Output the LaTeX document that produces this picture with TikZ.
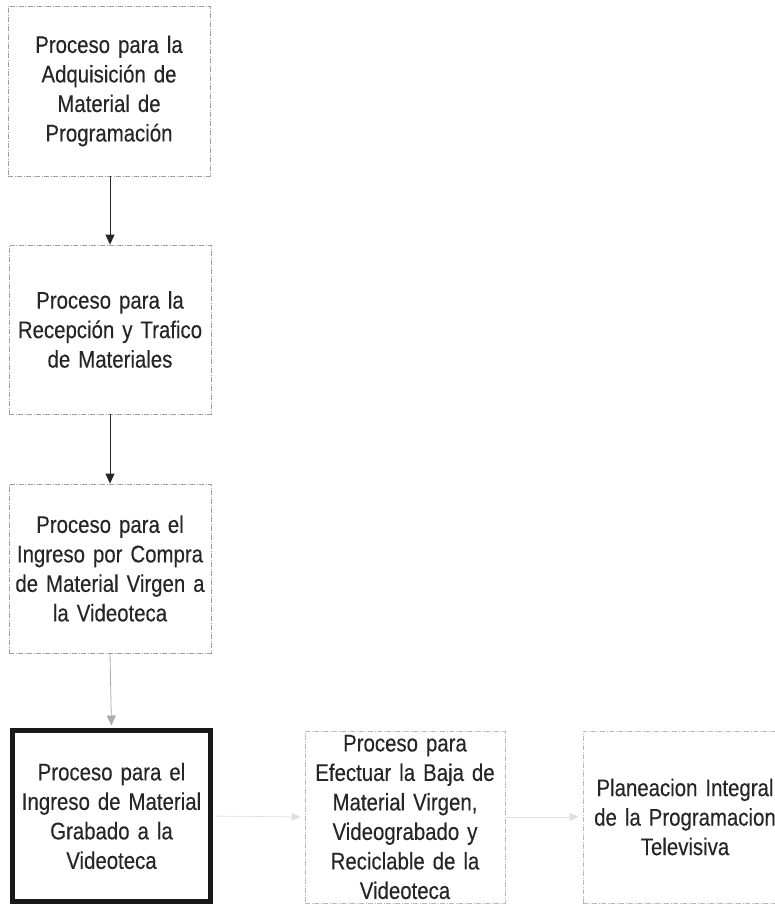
\documentclass[tikz,border=0pt]{standalone}
\usepackage{fontspec}
\setmainfont{Liberation Sans}
\newfontfamily\narrowfont[FakeStretch=0.85,FakeBold=0.3]{Liberation Sans}
\usetikzlibrary{arrows.meta}
\definecolor{txt}{HTML}{262626}
\begin{document}
\begin{tikzpicture}[x=1pt,y=-1pt,
  procbox/.style={draw=gray!75, line width=0.8pt, dash pattern=on 5pt off 1.5pt on 1pt off 1.5pt,
    minimum width=202pt, minimum height=170pt, text width=198pt, align=center, inner sep=0pt,
    font=\narrowfont\fontsize{24}{29.5}\selectfont, text=txt},
  lightbox/.style={procbox, draw=gray!55},
  mainbox/.style={procbox, draw=black!90, solid, line width=5pt, minimum width=198pt, minimum height=171pt},
  darrow/.style={-{Triangle[length=10pt,width=9pt]}, line width=0.9pt, black!85},
  garrow/.style={-{Triangle[length=10pt,width=9pt]}, line width=0.8pt, gray!65},
  larrow/.style={-{Triangle[length=9pt,width=8pt]}, line width=0.6pt, draw=gray!25, fill=gray!60, shorten >=4pt}
]
\useasboundingbox (0,0) rectangle (775,905);
\clip (0,0) rectangle (775,905);
\node[procbox] (a) at (109,91) {Proceso para la\\Adquisición de\\Material de\\Programación};
\node[procbox, minimum height=169pt] (b) at (110,329.5) {Proceso para la\\Recepción y Trafico\\de Materiales};
\node[procbox, minimum height=169pt] (c) at (110,568.5) {Proceso para el\\Ingreso por Compra\\de Material Virgen a\\la Videoteca};
\node[mainbox] (d) at (111.5,816) {Proceso para el\\Ingreso de Material\\Grabado a la\\Videoteca};
\node[lightbox, minimum width=200pt, minimum height=172pt] (e) at (405,817) {Proceso para\\Efectuar la Baja de\\Material Virgen,\\Videograbado y\\Reciclable de la\\Videoteca};
\node[lightbox, minimum width=204pt, minimum height=172pt] (f) at (685,817) {Planeacion Integral\\de la Programacion\\Televisiva};
\draw[darrow] (a.south -| 110,0) -- (b.north);
\draw[darrow] (b.south) -- (c.north);
\draw[garrow, shorten >=2.5pt] (c.south) -- (d.north);
\draw[larrow] ([xshift=2.5pt]d.east) -- (e.west);
\draw[larrow] (e.east) -- (f.west);
\end{tikzpicture}
\end{document}
